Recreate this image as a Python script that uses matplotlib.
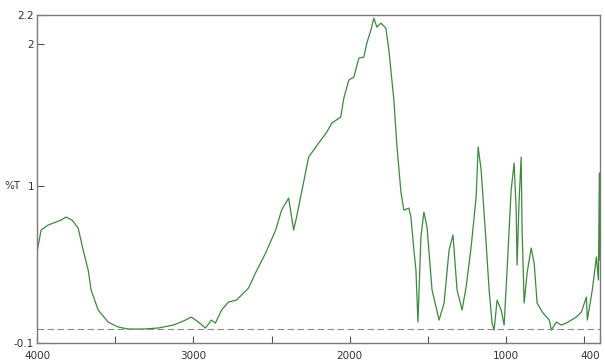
import matplotlib
matplotlib.use("Agg")
import matplotlib.pyplot as plt
from matplotlib.ticker import FixedLocator

# Wavenumber (cm-1) and %T values
wavenumber = [4000, 3974, 3929, 3846, 3814, 3776, 3737, 3705, 3673, 3654, 3609,
              3545, 3481, 3417, 3321, 3224, 3128, 3064, 3013, 2968, 2923, 2885,
              2859, 2820, 2776, 2724, 2647, 2603, 2538, 2474, 2436, 2391, 2359,
              2340, 2295, 2263, 2199, 2147, 2115, 2058, 2038, 2006, 1974, 1942,
              1910, 1891, 1865, 1846, 1827, 1801, 1769, 1750, 1718, 1699, 1673,
              1654, 1622, 1609, 1590, 1577, 1564, 1545, 1526, 1506, 1474, 1429,
              1397, 1365, 1340, 1314, 1282, 1256, 1224, 1192, 1179, 1160, 1128,
              1109, 1090, 1077, 1058, 1032, 1013, 994, 968, 949, 936, 930, 917,
              904, 898, 885, 866, 840, 821, 802, 769, 724, 711, 679, 647, 615,
              583, 551, 519, 487, 481, 449, 423, 410, 404, 400]
transmittance = [0.538, 0.692, 0.727, 0.762, 0.783, 0.762, 0.706, 0.552, 0.412,
                 0.272, 0.131, 0.047, 0.012, -0.002, -0.002, 0.005, 0.026, 0.054,
                 0.082, 0.047, 0.005, 0.061, 0.040, 0.131, 0.187, 0.201, 0.286,
                 0.391, 0.531, 0.692, 0.832, 0.916, 0.692, 0.783, 1.029, 1.204,
                 1.302, 1.379, 1.442, 1.484, 1.617, 1.744, 1.765, 1.898, 1.905,
                 2.003, 2.094, 2.178, 2.115, 2.143, 2.108, 1.954, 1.603, 1.288,
                 0.959, 0.832, 0.846, 0.783, 0.552, 0.412, 0.047, 0.643, 0.818,
                 0.713, 0.272, 0.061, 0.180, 0.552, 0.657, 0.272, 0.131, 0.293,
                 0.573, 0.923, 1.274, 1.113, 0.601, 0.272, 0.040, -0.009, 0.201,
                 0.131, 0.026, 0.412, 0.973, 1.162, 0.832, 0.447, 0.902, 1.204,
                 0.692, 0.180, 0.391, 0.566, 0.461, 0.180, 0.117, 0.061, -0.009,
                 0.047, 0.026, 0.040, 0.061, 0.082, 0.117, 0.222, 0.061, 0.272,
                 0.503, 0.342, 1.092, 0.482]

x_major = [4000, 3000, 2000, 1000, 400]
x_major_labels = ["4000", "3000", "2000", "1000", "400"]
x_minor = [3500, 2500, 1500, 500]
y_ticks = [2.2, 2, 1, -0.1]
y_tick_labels = ["2.2", "2", "1", "-0.1"]

plt.rcParams['font.family'] = ['Liberation Sans Narrow', 'DejaVu Sans']

fig = plt.figure(figsize=(6.05, 3.64), dpi=100)
ax = fig.add_axes([0.0612, 0.0577, 0.9305, 0.9011])

ax.plot(wavenumber, transmittance, color='#3b8a3b', linewidth=0.9)
ax.axhline(0, color='#8a8a8a', linewidth=0.8, linestyle=(0, (6, 3)))

ax.set_xlim(4000, 400)
ax.set_ylim(-0.1, 2.2)

ax.xaxis.set_major_locator(FixedLocator(x_major))
ax.set_xticklabels(x_major_labels)
ax.xaxis.set_minor_locator(FixedLocator(x_minor))
ax.set_yticks(y_ticks)
ax.set_yticklabels(y_tick_labels)

ax.tick_params(axis='x', which='both', direction='in', length=5, width=0.8,
               color='#555555', labelsize=7.5, pad=6, labelcolor='#333333')
ax.tick_params(axis='y', direction='in', length=5, width=0.8,
               color='#555555', labelsize=7.5, pad=2, labelcolor='#333333')
xlabels = ax.get_xticklabels()
xlabels[-1].set_horizontalalignment('right')
for s in ax.spines.values():
    s.set_color('#7a7a7a')
    s.set_linewidth(1.0)

ax.text(-0.03, (1 + 0.1) / 2.3, "%T", transform=ax.transAxes, fontsize=7.5,
        color='#333333', ha='right', va='center')

fig.savefig("out.png", dpi=100)
